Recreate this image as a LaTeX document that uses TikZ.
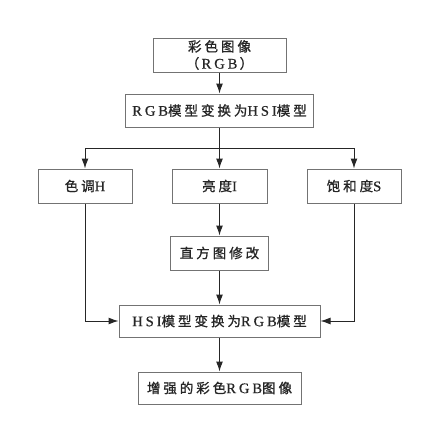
\documentclass[tikz,border=0pt]{standalone}
\usepackage{fontspec}
\setmainfont[LetterSpace=22,FakeBold=1.2]{Noto Sans CJK SC}
\newfontfamily\latfont[LetterSpace=20,FakeBold=0.6,Scale=1.08]{Liberation Serif}
\newcommand\lat[1]{{\latfont #1}}
\usetikzlibrary{positioning,arrows.meta}

\begin{document}
\begin{tikzpicture}[x=1pt,y=1pt]
	\tikzset{
	    stage/.style={draw=black!55, line width=1pt, align=center, inner sep=0pt,
	        minimum height=34pt, font=\fontsize{13.5pt}{17pt}\selectfont, text=black!85},
	    flow/.style={draw=black!85, line width=1pt, -{Latex[length=10pt,width=7pt]}}
	}
	\useasboundingbox (0,0) rectangle (426,-426);

	\node[stage, minimum width=133pt] (input) at (219.5,-55) {彩色图像\\（\,\lat{RGB}\,）};
	\node[stage, minimum width=188pt, minimum height=33pt, below=21pt of input] (rgb2hsi) {\lat{RGB}模型变换为\lat{HSI}模型};
	\node[stage, minimum width=95pt, below=41pt of rgb2hsi] (intensity) {亮度\lat{I}};
	\node[stage, minimum width=94pt, left=39pt of intensity] (hue) {色调\lat{H}};
	\node[stage, minimum width=94pt, right=39pt of intensity] (sat) {饱和度\lat{S}};
	\node[stage, minimum width=98pt, below=32pt of intensity] (histo) {直方图修改};
	\node[stage, minimum width=201pt, minimum height=32pt, below=34pt of histo] (hsi2rgb) {\lat{HSI}模型变换为\lat{RGB}模型};
	\node[stage, minimum width=163pt, minimum height=32pt, below=34pt of hsi2rgb] (output) {增强的彩色\lat{RGB}图像};

	\coordinate[below=21pt of rgb2hsi] (split);

	\draw[flow] (input) -- (rgb2hsi);
	\draw[flow] (rgb2hsi) -- (intensity);
	\draw[flow] (split) -| (hue);
	\draw[flow] (split) -| (sat);
	\draw[flow] (intensity) -- (histo);
	\draw[flow] (histo) -- (hsi2rgb);
	\draw[flow] (hue) |- (hsi2rgb);
	\draw[flow] (sat) |- (hsi2rgb);
	\draw[flow] (hsi2rgb) -- (output);

\end{tikzpicture}
\end{document}
